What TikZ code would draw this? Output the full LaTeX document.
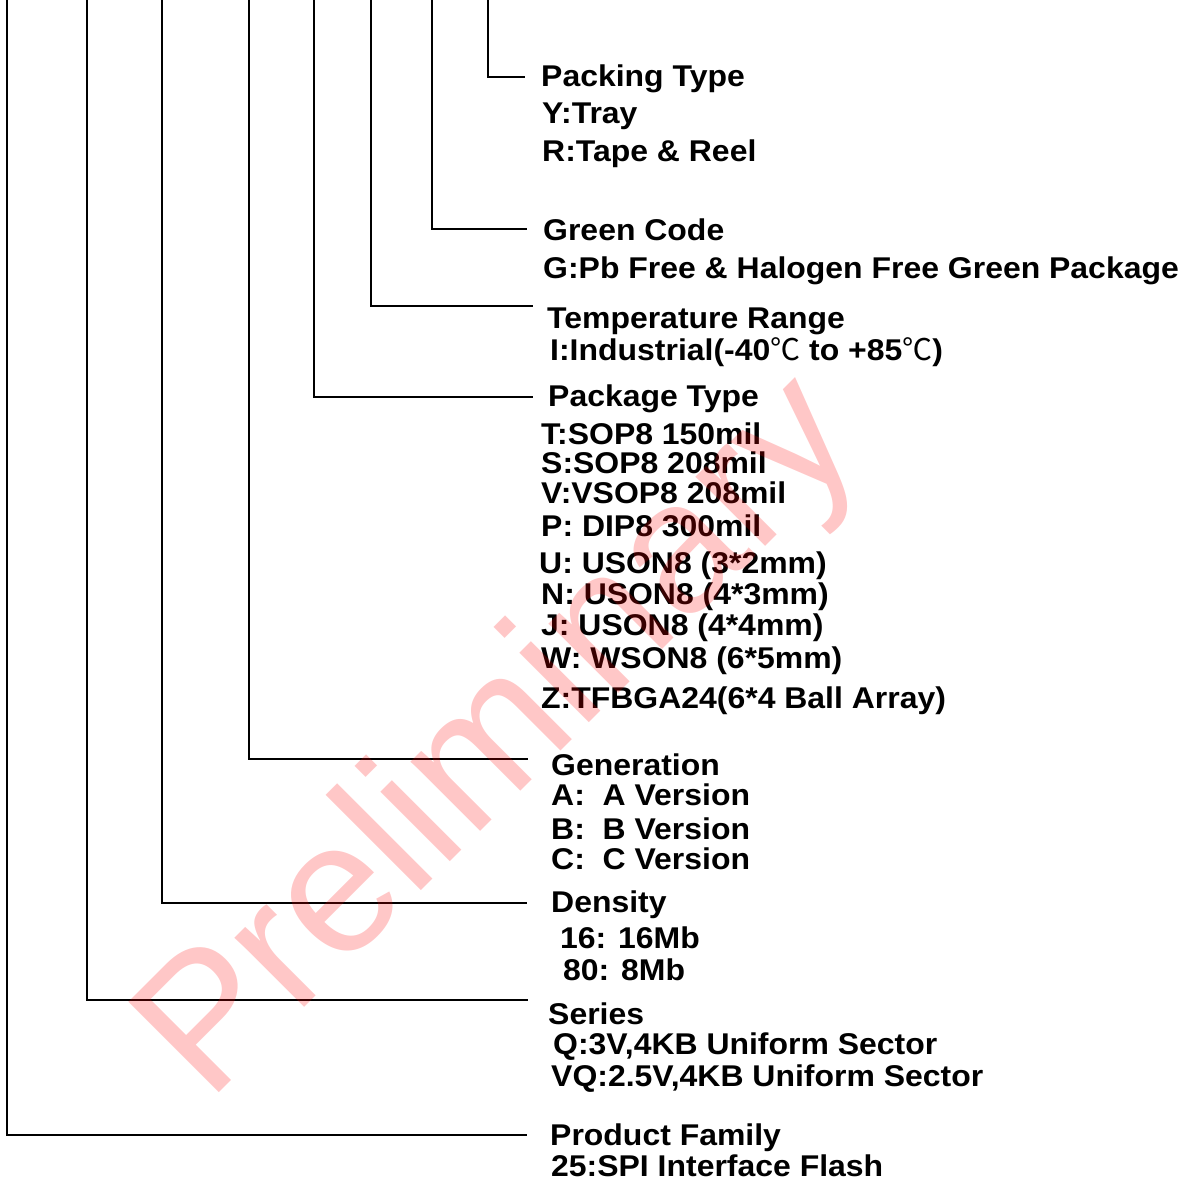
\documentclass[tikz,border=0pt]{standalone}
\usepackage{fontspec}
\setmainfont[FakeStretch=1.065]{Liberation Sans}
\newfontfamily\cjk{Noto Sans CJK SC}
\newfontfamily\stampfont{Liberation Sans}
\newcommand{\degsym}{{\cjk\mdseries ℃}}
\tikzset{
  leadline/.style={draw=black, line width=1.6pt},
  fieldtxt/.style={anchor=base west, inner sep=0pt,
                   font=\fontsize{30}{36}\selectfont\bfseries},
  stamp/.style={text=red, text opacity=0.22, inner sep=0pt, rotate=45,
                font=\stampfont\fontsize{186}{186}\selectfont},
}

\begin{document}
\begin{tikzpicture}[x=1pt, y=-1pt]
  \useasboundingbox (0,0) rectangle (1197,1180);
  % packing type
  \node[fieldtxt] (pack) at (541,87) {Packing Type};
  \node[fieldtxt] (packy) at (542,124) {Y:Tray};
  \node[fieldtxt] (packr) at (542,161) {R:Tape \& Reel};
  % green code
  \node[fieldtxt] (green) at (543,240) {Green Code};
  \node[fieldtxt] (greeng) at (543,278) {G:Pb Free \& Halogen Free Green Package};
  % temperature range
  \node[fieldtxt] (temp) at (547,328) {Temperature Range};
  \node[fieldtxt] (tempi) at (550,360) {I:Industrial(-40\degsym{} to +85\degsym)};
  % package type
  \node[fieldtxt] (pkg) at (548,406) {Package Type};
  \node[fieldtxt] (pkgt) at (541,444) {T:SOP8 150mil};
  \node[fieldtxt] (pkgs) at (541,473) {S:SOP8 208mil};
  \node[fieldtxt] (pkgv) at (541,503) {V:VSOP8 208mil};
  \node[fieldtxt] (pkgp) at (541,536) {P: DIP8 300mil};
  \node[fieldtxt] (pkgu) at (539,573) {U: USON8 (3*2mm)};
  \node[fieldtxt] (pkgn) at (541,604) {N: USON8 (4*3mm)};
  \node[fieldtxt] (pkgj) at (541,635) {J: USON8 (4*4mm)};
  \node[fieldtxt] (pkgw) at (541,668) {W: WSON8 (6*5mm)};
  \node[fieldtxt] (pkgz) at (541,708) {Z:TFBGA24(6*4 Ball Array)};
  % generation
  \node[fieldtxt] (gen) at (551,775) {Generation};
  \node[fieldtxt] (gena) at (551,805) {A:\ \ A Version};
  \node[fieldtxt] (genb) at (551,839) {B:\ \ B Version};
  \node[fieldtxt] (genc) at (551,869) {C:\ \ C Version};
  % density
  \node[fieldtxt] (dens) at (551,912) {Density};
  \node[fieldtxt] (dens16) at (560,948) {16: 16Mb};
  \node[fieldtxt] (dens80) at (563,980) {80: 8Mb};
  % series
  \node[fieldtxt] (ser) at (548,1024) {Series};
  \node[fieldtxt] (serq) at (553,1054) {Q:3V,4KB Uniform Sector};
  \node[fieldtxt] (servq) at (551,1086) {VQ:2.5V,4KB Uniform Sector};
  % product family
  \node[fieldtxt] (fam) at (550,1145) {Product Family};
  \node[fieldtxt] (fam25) at (551,1176) {25:SPI Interface Flash};
  % leader tops and ends
  \coordinate (t1) at (7,0);    \coordinate (e1) at (527,1135);
  \coordinate (t2) at (87,0);   \coordinate (e2) at (528,1000);
  \coordinate (t3) at (162,0);  \coordinate (e3) at (527,903);
  \coordinate (t4) at (249,0);  \coordinate (e4) at (528,759);
  \coordinate (t5) at (314,0);  \coordinate (e5) at (533,397);
  \coordinate (t6) at (371,0);  \coordinate (e6) at (533,306);
  \coordinate (t7) at (432,0);  \coordinate (e7) at (527,229);
  \coordinate (t8) at (488,0);  \coordinate (e8) at (525,77);
  \foreach \i in {1,...,8}
    \draw[leadline] (t\i) |- (e\i);
  % watermark
  \node[stamp] (mark) at (503,741) {Preliminary};
\end{tikzpicture}
\end{document}
